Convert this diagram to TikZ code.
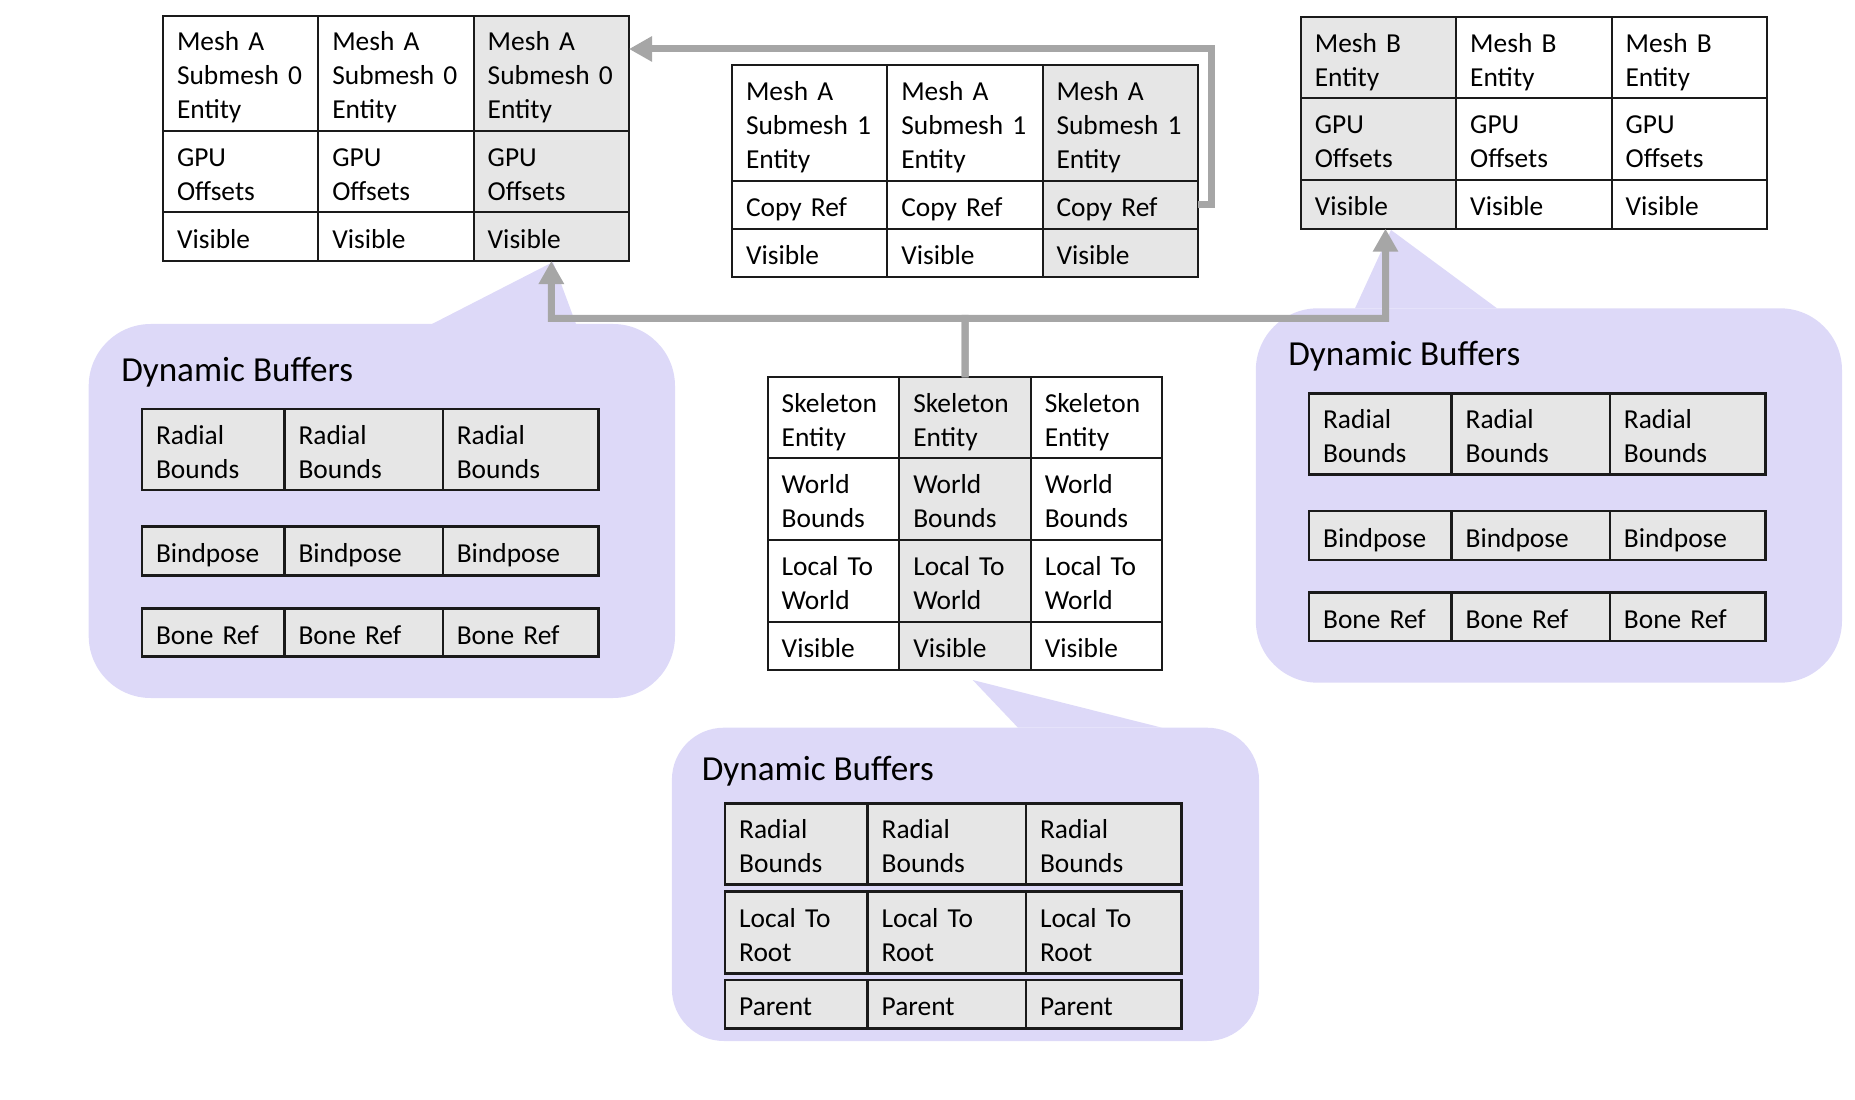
\documentclass[tikz,border=0pt]{standalone}
\usepackage{fontspec}
\setmainfont{Carlito}
\usetikzlibrary{arrows.meta}

\definecolor{cellgray}{RGB}{230,230,230}
\definecolor{bubble}{RGB}{221,217,248}
\definecolor{linkgray}{RGB}{166,166,166}
\definecolor{rulecol}{RGB}{26,26,26}

% struts that keep cap-height text visually centred in a cell
\newcommand{\celltop}{\rule{0pt}{18pt}}
\newcommand{\cellbot}{\rule[-4.8pt]{0pt}{0pt}}

\tikzset{
    cell/.style={rectangle, draw=rulecol, line width=0.4mm, anchor=north west,
        inner xsep=2.8mm, inner ysep=0pt, outer sep=0pt, text width=#1, align=left,
        font=\fontsize{15.6pt}{19.35pt}\selectfont,
        execute at begin node=\celltop, execute at end node=\cellbot},
    bufcell/.style={cell=#1, line width=0.5mm, fill=cellgray},
    buftitle/.style={anchor=base west, inner sep=0pt, font=\fontsize{20pt}{24pt}\selectfont},
    link/.style={draw=linkgray, line width=1.4mm, -{Triangle[length=4.6mm, width=4.8mm]}}
}

\begin{document}
\begin{tikzpicture}[x=0.2mm, y=-0.2mm]
        \useasboundingbox (0,0) rectangle (1855,1100);

        % speech bubbles behind the buffer tables
        \fill[bubble, rounded corners=12.4mm] (88.7,324) rectangle (675,698);
        \fill[bubble] (432,324) -- (553,262) -- (576,324) -- cycle;

        \fill[bubble, rounded corners=12.4mm] (1255.8,308.3) rectangle (1842,682.7);
        \fill[bubble] (1355,308.3) -- (1391,230) -- (1497,308.3) -- cycle;

        \fill[bubble, rounded corners=10.4mm] (671.9,727.7) rectangle (1259,1041);
        \fill[bubble] (1018,727.7) -- (972.7,680) -- (1162,727.7) -- cycle;

        % Mesh A submesh 0 chunk
        \foreach \c/\x/\f in {1/163/white, 2/318.3/white, 3/473.7/cellgray} {
            \node[cell=25.46mm, fill=\f, minimum height=23.06mm] (ma0-\c-1) at (\x,15.7) {Mesh A\\Submesh 0\\Entity};
            \node[cell=25.46mm, fill=\f, minimum height=16.26mm] (ma0-\c-2) at (\x,131) {GPU\\Offsets};
            \node[cell=25.46mm, fill=\f, minimum height=9.74mm] (ma0-\c-3) at (\x,212.3) {Visible};
        }

        % Mesh A submesh 1 chunk
        \foreach \c/\x/\f in {1/732/white, 2/887.3/white, 3/1042.5/cellgray} {
            \node[cell=25.46mm, fill=\f, minimum height=23.08mm] (ma1-\c-1) at (\x,65.3) {Mesh A\\Submesh 1\\Entity};
            \node[cell=25.46mm, fill=\f, minimum height=9.66mm] (ma1-\c-2) at (\x,180.7) {Copy Ref};
            \node[cell=25.46mm, fill=\f, minimum height=9.66mm] (ma1-\c-3) at (\x,229) {Visible};
        }

        % Mesh B chunk
        \foreach \c/\x/\f in {1/1300.8/cellgray, 2/1456.2/white, 3/1611.6/white} {
            \node[cell=25.48mm, fill=\f, minimum height=16.32mm] (mb-\c-1) at (\x,16.7) {Mesh B\\Entity};
            \node[cell=25.48mm, fill=\f, minimum height=16.34mm] (mb-\c-2) at (\x,98.3) {GPU\\Offsets};
            \node[cell=25.48mm, fill=\f, minimum height=9.74mm] (mb-\c-3) at (\x,180) {Visible};
        }

        % Skeleton chunk
        \foreach \c/\x/\f in {1/767.7/white, 2/899.3/cellgray, 3/1030.8/white} {
            \node[cell=20.71mm, fill=\f, minimum height=16.2mm] (sk-\c-1) at (\x,377.3) {Skeleton\\Entity};
            \node[cell=20.71mm, fill=\f, minimum height=16.34mm] (sk-\c-2) at (\x,458.3) {World\\Bounds};
            \node[cell=20.71mm, fill=\f, minimum height=16.34mm] (sk-\c-3) at (\x,540) {Local To\\World};
            \node[cell=20.71mm, fill=\f, minimum height=9.66mm] (sk-\c-4) at (\x,621.7) {Visible};
        }

        % dynamic buffers of the two meshes
        \foreach \b/\bx/\by in {a/88.7/324, b/1255.8/308.3} {
            \begin{scope}[shift={(\bx,\by)}]
                \node[buftitle] (title-\b) at (32.2,57.5) {Dynamic Buffers};
                \foreach \c/\x/\w in {1/53.3/22.9mm, 2/195.8/26.06mm, 3/354.1/25.5mm} {
                    \node[bufcell=\w, minimum height=16.2mm] (buf\b-\c-1) at (\x,85) {Radial\\Bounds};
                    \node[bufcell=\w, minimum height=9.8mm] (buf\b-\c-2) at (\x,202.6) {Bindpose};
                    \node[bufcell=\w, minimum height=9.68mm] (buf\b-\c-3) at (\x,284.3) {Bone Ref};
                }
            \end{scope}
        }

        % dynamic buffers of the skeleton
        \begin{scope}[shift={(671.9,727.7)}]
            \node[buftitle] (title-s) at (29.6,52.3) {Dynamic Buffers};
            \foreach \c/\x/\w in {1/53.3/22.9mm, 2/195.8/26.06mm, 3/354.1/25.5mm} {
                \node[bufcell=\w, minimum height=16.2mm] (bufs-\c-1) at (\x,75.6) {Radial\\Bounds};
                \node[bufcell=\w, minimum height=16.32mm] (bufs-\c-2) at (\x,164) {Local To\\Root};
                \node[bufcell=\w, minimum height=9.66mm] (bufs-\c-3) at (\x,252.3) {Parent};
            }
        \end{scope}

        % links
        \coordinate (hub) at (965,318.3);
        \coordinate (cpy) at (1211,49);
        \draw[link] (sk-2-1.north) -- (hub) -| (ma0-3-3.south);
        \draw[link] (sk-2-1.north) -- (hub) -| ([xshift=1.4mm]mb-1-3.south);
        \draw[link] (ma1-3-2.east) -| (cpy) -- (cpy -| ma0-3-1.east);

    \end{tikzpicture}
\end{document}
